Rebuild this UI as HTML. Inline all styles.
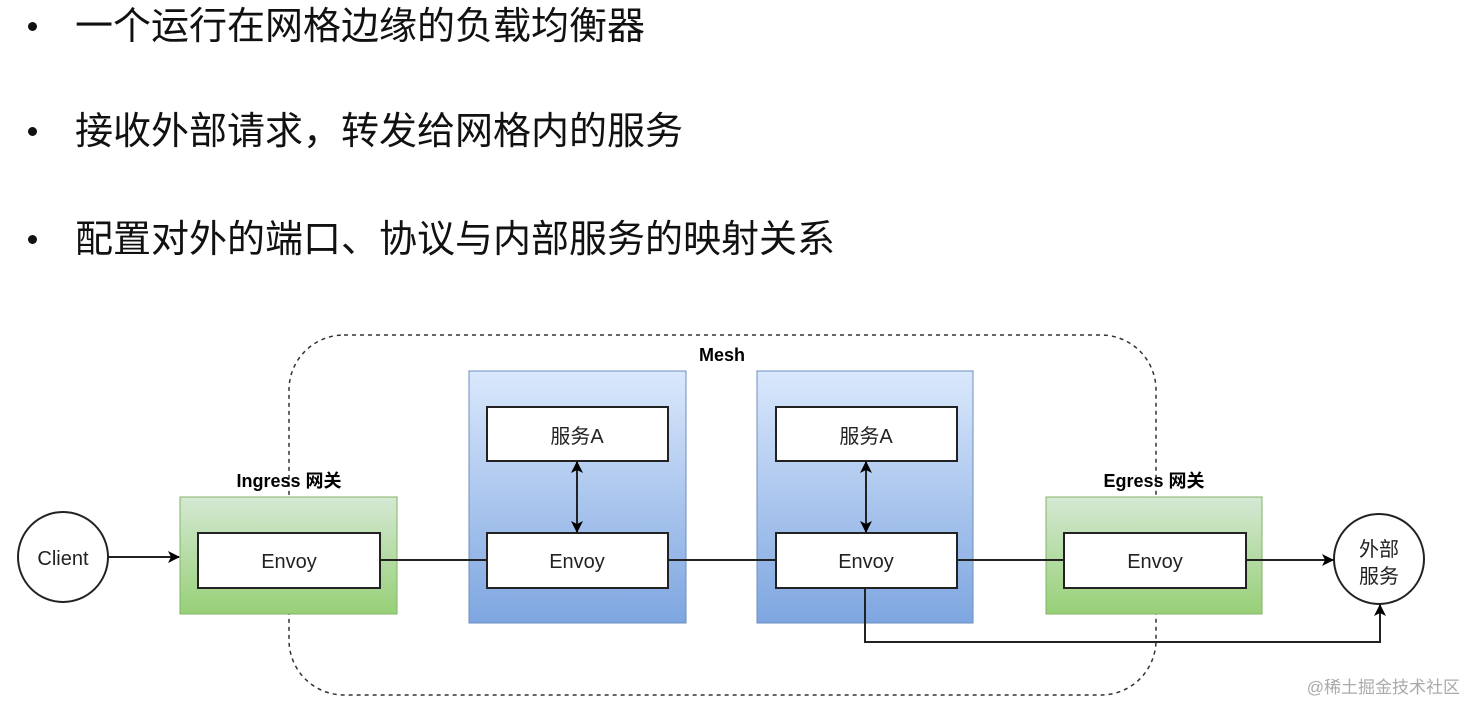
<!DOCTYPE html>
<html><head><meta charset="utf-8"><style>
body{margin:0;width:1465px;height:703px;background:#fff;overflow:hidden;position:relative;font-family:"Liberation Sans","Noto Sans CJK SC",sans-serif;}
.b{position:absolute;left:75px;font-size:38px;line-height:50px;color:#111;white-space:nowrap;}
.d{position:absolute;left:28px;width:9px;height:9px;border-radius:50%;background:#111;}
</style></head><body>
<div class="d" style="top:22px"></div><div class="b" style="top:2px">一个运行在网格边缘的负载均衡器</div>
<div class="d" style="top:127px"></div><div class="b" style="top:107px">接收外部请求，转发给网格内的服务</div>
<div class="d" style="top:235px"></div><div class="b" style="top:215px">配置对外的端口、协议与内部服务的映射关系</div>
<svg width="1465" height="703" style="position:absolute;left:0;top:0" font-family="Liberation Sans, Noto Sans CJK SC, sans-serif">
<defs>
<linearGradient id="g" x1="0" y1="0" x2="0" y2="1"><stop offset="0" stop-color="#d5e8d4"/><stop offset="1" stop-color="#97d077"/></linearGradient>
<linearGradient id="bl" x1="0" y1="0" x2="0" y2="1"><stop offset="0" stop-color="#dae8fc"/><stop offset="1" stop-color="#7ea6e0"/></linearGradient>
<marker id="a" markerWidth="12" markerHeight="12" refX="11" refY="6" orient="auto" markerUnits="userSpaceOnUse"><path d="M0,0 L12,6 L0,12 L3,6z" fill="#000"/></marker>
<marker id="as" markerWidth="12" markerHeight="12" refX="1" refY="6" orient="auto" markerUnits="userSpaceOnUse"><path d="M12,0 L0,6 L12,12 L9,6z" fill="#000"/></marker>
</defs>
<rect x="289" y="335" width="867" height="360" rx="55" fill="none" stroke="#333" stroke-width="1.5" stroke-dasharray="4,4"/>
<text x="722" y="361" font-size="18" font-weight="bold" text-anchor="middle">Mesh</text>
<text x="289" y="487" font-size="18" font-weight="bold" text-anchor="middle">Ingress 网关</text>
<text x="1154" y="487" font-size="18" font-weight="bold" text-anchor="middle">Egress 网关</text>
<rect x="180" y="497" width="217" height="117" fill="url(#g)" stroke="#82b366"/>
<rect x="1046" y="497" width="216" height="117" fill="url(#g)" stroke="#82b366"/>
<rect x="469" y="371" width="217" height="252" fill="url(#bl)" stroke="#6c8ebf"/>
<rect x="757" y="371" width="216" height="252" fill="url(#bl)" stroke="#6c8ebf"/>
<g fill="#fff" stroke="#222" stroke-width="2">
<rect x="198" y="533" width="182" height="55"/>
<rect x="487" y="407" width="181" height="54"/>
<rect x="487" y="533" width="181" height="55"/>
<rect x="776" y="407" width="181" height="54"/>
<rect x="776" y="533" width="181" height="55"/>
<rect x="1064" y="533" width="182" height="55"/>
<circle cx="63" cy="557" r="45"/>
<circle cx="1379" cy="559" r="45"/>
</g>
<g font-size="20" text-anchor="middle" fill="#222">
<text x="289" y="568">Envoy</text><text x="577" y="568">Envoy</text><text x="866" y="568">Envoy</text><text x="1155" y="568">Envoy</text>
<text x="577" y="443">服务A</text><text x="866" y="443">服务A</text>
<text x="63" y="565">Client</text>
<text x="1379" y="556">外部</text><text x="1379" y="583">服务</text>
</g>
<g stroke="#222" stroke-width="2" fill="none">
<line x1="108" y1="557" x2="179" y2="557" marker-end="url(#a)"/>
<line x1="380" y1="560" x2="487" y2="560"/>
<line x1="668" y1="560" x2="776" y2="560"/>
<line x1="957" y1="560" x2="1064" y2="560"/>
<line x1="1246" y1="560" x2="1333" y2="560" marker-end="url(#a)"/>
<line x1="577" y1="462" x2="577" y2="532" marker-start="url(#as)" marker-end="url(#a)"/>
<line x1="866" y1="462" x2="866" y2="532" marker-start="url(#as)" marker-end="url(#a)"/>
<polyline points="865,588 865,642 1380,642 1380,605" marker-end="url(#a)"/>
</g>
<text x="1460" y="693" font-size="17" fill="#aaa" text-anchor="end">@稀土掘金技术社区</text>
</svg>
</body></html>
